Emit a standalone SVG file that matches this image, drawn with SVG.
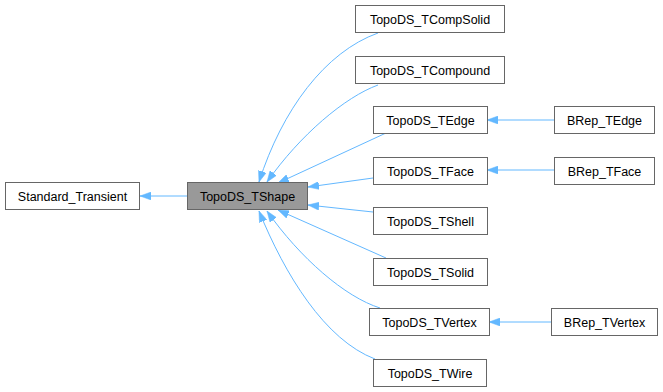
<svg xmlns="http://www.w3.org/2000/svg" width="663" height="392" viewBox="0 0 663 392">
<style>
.n rect{fill:#ffffff;stroke:#666666;stroke-width:1}
.n.cur rect{fill:#999999}
.n text{font-family:"Liberation Sans",Arial,sans-serif;font-size:12.5px;fill:#000000;text-anchor:middle}
.e path{fill:none;stroke:#63b8ff;stroke-width:1}
</style>
<defs>
<marker id="ah" viewBox="0 0 11 8" refX="11" refY="4" markerWidth="11" markerHeight="8" markerUnits="userSpaceOnUse" orient="auto">
<path d="M0,0 L11,4 L0,8 z" fill="#63b8ff" stroke="#63b8ff" stroke-width="0.5"/>
</marker>
</defs>
<g id="connectors" class="e">
<path d="M187,196 L140,196" marker-end="url(#ah)"/>
<path d="M378,33 C325,52 282,110 259,182" marker-end="url(#ah)"/>
<path d="M378,85 C345,97 300,135 267,182" marker-end="url(#ah)"/>
<path d="M386,133 L278,183" marker-end="url(#ah)"/>
<path d="M373,178 L308,187" marker-end="url(#ah)"/>
<path d="M373,212 L308,205" marker-end="url(#ah)"/>
<path d="M386,258 L278,210" marker-end="url(#ah)"/>
<path d="M380,308 C345,297 300,258 267,211" marker-end="url(#ah)"/>
<path d="M375,359 C325,340 285,275 259,211" marker-end="url(#ah)"/>
<path d="M554,120 L487,120" marker-end="url(#ah)"/>
<path d="M554,170 L487,170" marker-end="url(#ah)"/>
<path d="M551,322 L489,322" marker-end="url(#ah)"/>
</g>
<g id="node_Standard_Transient" class="n"><rect x="5.5" y="182.5" width="134" height="27"/><text x="72.5" y="200.5">Standard_Transient</text></g>
<g id="node_TopoDS_TShape" class="n cur"><rect x="187.5" y="182.5" width="120" height="27"/><text x="247.5" y="200.5">TopoDS_TShape</text></g>
<g id="node_TopoDS_TCompSolid" class="n"><rect x="355.5" y="5.5" width="149" height="27"/><text x="430" y="23.5">TopoDS_TCompSolid</text></g>
<g id="node_TopoDS_TCompound" class="n"><rect x="355.5" y="56.5" width="149" height="27"/><text x="430" y="74.5">TopoDS_TCompound</text></g>
<g id="node_TopoDS_TEdge" class="n"><rect x="373.5" y="106.5" width="114" height="27"/><text x="430.5" y="124.5">TopoDS_TEdge</text></g>
<g id="node_TopoDS_TFace" class="n"><rect x="373.5" y="157.5" width="114" height="27"/><text x="430.5" y="175.5">TopoDS_TFace</text></g>
<g id="node_TopoDS_TShell" class="n"><rect x="373.5" y="207.5" width="114" height="27"/><text x="430.5" y="225.5">TopoDS_TShell</text></g>
<g id="node_TopoDS_TSolid" class="n"><rect x="373.5" y="258.5" width="114" height="27"/><text x="430.5" y="276.5">TopoDS_TSolid</text></g>
<g id="node_TopoDS_TVertex" class="n"><rect x="369.5" y="308.5" width="120" height="27"/><text x="429.5" y="326.5">TopoDS_TVertex</text></g>
<g id="node_TopoDS_TWire" class="n"><rect x="373.5" y="359.5" width="113" height="27"/><text x="430" y="377.5">TopoDS_TWire</text></g>
<g id="node_BRep_TEdge" class="n"><rect x="554.5" y="106.5" width="100" height="27"/><text x="604.5" y="124.5">BRep_TEdge</text></g>
<g id="node_BRep_TFace" class="n"><rect x="554.5" y="157.5" width="100" height="27"/><text x="604.5" y="175.5">BRep_TFace</text></g>
<g id="node_BRep_TVertex" class="n"><rect x="551.5" y="308.5" width="106" height="27"/><text x="604.5" y="326.5">BRep_TVertex</text></g>
</svg>
